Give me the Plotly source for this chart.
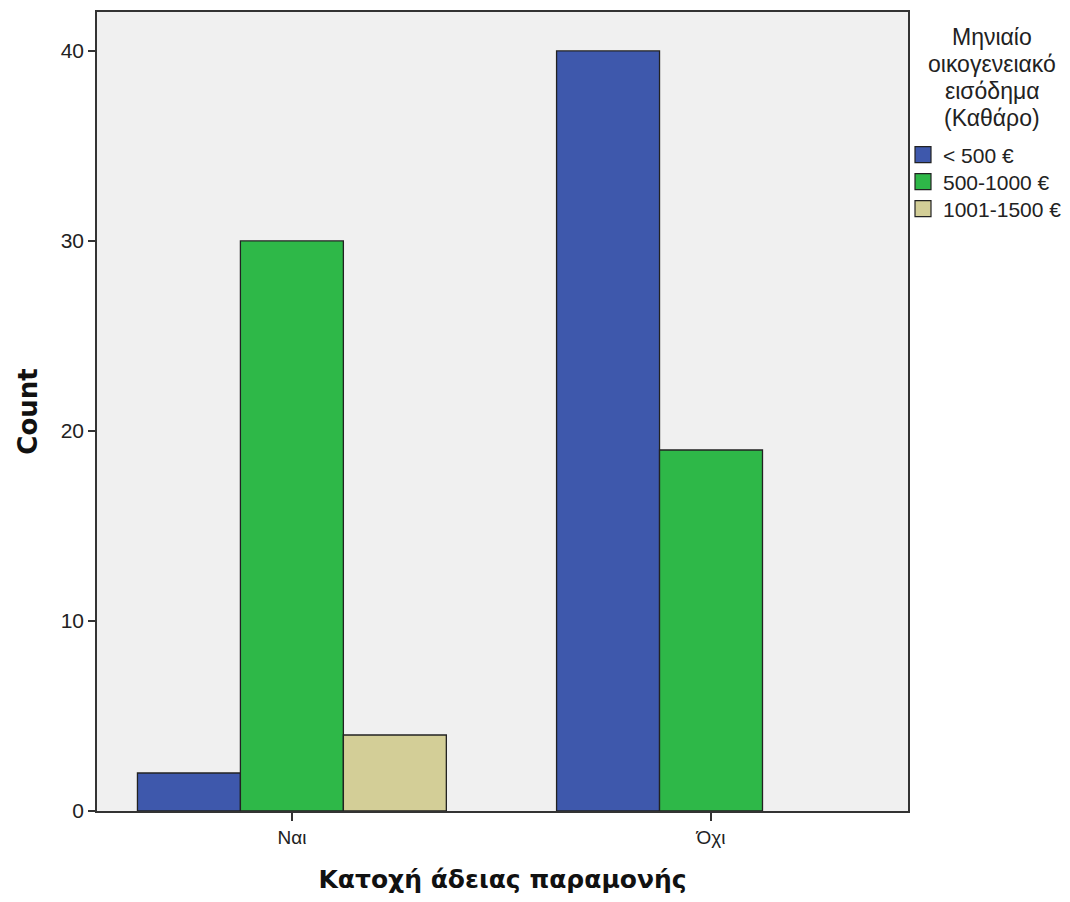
import plotly.graph_objects as go

categories = ["Ναι", "Όχι"]
series_names = ["< 500 €", "500-1000 €", "1001-1500 €"]
values_lt500 = [2, 40]
values_500_1000 = [30, 19]
values_1001_1500 = [4, None]
colors = ["#3E58AC", "#2EB848", "#D3CE97"]
legend_title_lines = ["Μηνιαίο", "οικογενειακό", "εισόδημα", "(Καθάρο)"]

sans = "Liberation Sans, Arial, sans-serif"
bold = "DejaVu Sans, Verdana, sans-serif"

# figure is placed 8px in from the page edge (default body margin)
W, H = 1062, 886
PL, PT, PW, PH = 89, 4, 811, 799  # plot area in figure pixels


def paper_y(page_y):
    return 1 - ((page_y - 8) - PT) / PH


def paper_x(page_x):
    return ((page_x - 8) - PL) / PW


legend_ids = ["legend", "legend2", "legend3"]
legend_item_page_y = [155, 182, 209]

fig = go.Figure()
for name, vals, col, lid in zip(series_names, [values_lt500, values_500_1000, values_1001_1500], colors, legend_ids):
    fig.add_trace(go.Bar(
        x=categories, y=vals, name=name, showlegend=False,
        marker=dict(color=col, line=dict(color="#222222", width=1.3)),
    ))
    # legend proxy with a larger square swatch
    fig.add_trace(go.Scatter(
        x=[None], y=[None], name=name, mode="markers", legend=lid,
        marker=dict(symbol="square", size=16, color=col, line=dict(color="#222222", width=1.2)),
    ))

legend_common = dict(
    xanchor="left", yanchor="middle",
    font=dict(family=sans, size=21, color="#222222"),
    itemwidth=30, itemsizing="trace", bgcolor="rgba(0,0,0,0)",
)
legend_layout = {}
for lid, py in zip(legend_ids, legend_item_page_y):
    legend_layout[lid] = dict(x=paper_x(903), y=paper_y(py), **legend_common)

fig.update_layout(
    width=W, height=H,
    margin=dict(l=PL, r=W - (PL + PW), t=PT, b=H - (PT + PH), autoexpand=False),
    barmode="group", bargap=0.263, bargroupgap=0,
    plot_bgcolor="#F0F0F0", paper_bgcolor="white",
    font=dict(family=sans, size=21, color="#222222"),
    xaxis=dict(
        type="category", range=[-0.465, 1.470],
        showline=True, linecolor="#333333", linewidth=1.6, mirror=True,
        ticks="outside", ticklen=8, tickcolor="#333333", tickwidth=1.6,
        title=dict(text="<b>Κατοχή άδειας παραμονής</b>",
                   font=dict(family=bold, size=25, color="#111111"), standoff=40),
        tickfont=dict(size=19),
    ),
    yaxis=dict(
        range=[0, 42.05], tickvals=[0, 10, 20, 30, 40],
        showgrid=False, zeroline=False,
        showline=True, linecolor="#333333", linewidth=1.6, mirror=True,
        ticks="outside", ticklen=7, tickcolor="#333333", tickwidth=1.6,
        title=dict(text="<b>Count</b>",
                   font=dict(family=bold, size=26, color="#111111"), standoff=16),
        tickfont=dict(size=21),
    ),
    showlegend=True,
    **legend_layout,
)

# legend title, centred, one line per annotation
line_centers_page_y = [37, 64, 91, 118]
for txt, py in zip(legend_title_lines, line_centers_page_y):
    fig.add_annotation(
        text=txt, xref="paper", yref="paper",
        x=paper_x(992), y=paper_y(py),
        xanchor="center", yanchor="middle", showarrow=False,
        font=dict(family=sans, size=23, color="#222222"),
    )

fig.write_html("out.html")
